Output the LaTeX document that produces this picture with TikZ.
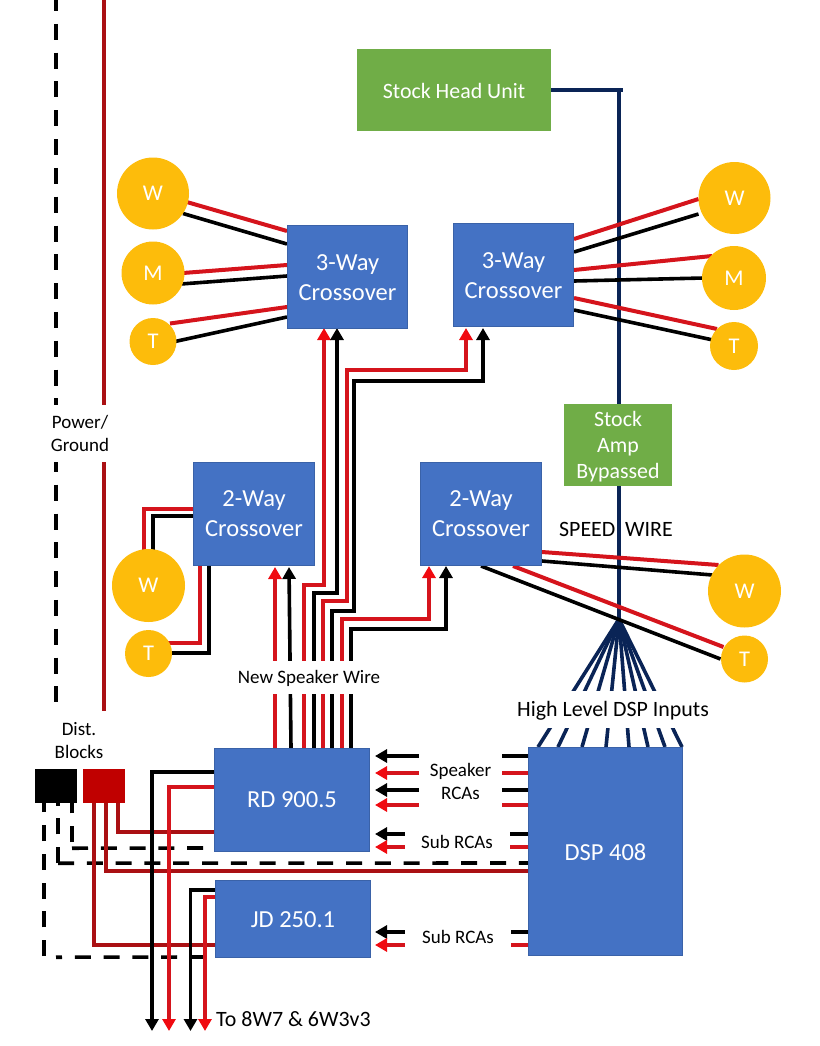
\documentclass[tikz,border=0pt]{standalone}
\usepackage{fontspec}
\setmainfont{Carlito}
\usetikzlibrary{arrows.meta,backgrounds}
\definecolor{boxblue}{HTML}{4472C4}
\definecolor{boxedge}{HTML}{3A62A8}
\definecolor{leaf}{HTML}{70AD47}
\definecolor{gold}{HTML}{FDBC0B}
\definecolor{navy}{HTML}{0A2456}
\definecolor{wirered}{HTML}{D5141C}
\definecolor{tipred}{HTML}{F00A10}
\definecolor{power}{HTML}{AA1013}
\definecolor{blockred}{HTML}{C00000}
\tikzset{
  x=1pt,y=-1pt,
  boxnode/.style={rectangle,fill=boxblue,draw=boxedge,line width=.6pt,inner sep=0pt,text=white,font=\fontsize{24.5}{30}\selectfont},
  greenbox/.style={rectangle,fill=leaf,inner sep=0pt,text=white,font=\fontsize{21.9}{26}\selectfont},
  spk/.style={circle,fill=gold,inner sep=0pt,text=white,font=\fontsize{22.5}{26}\selectfont},
  lbl/.style={fill=white,inner sep=0pt,text=black,font=\fontsize{19}{23}\selectfont},
  biglbl/.style={inner sep=0pt,text=black,font=\fontsize{21.9}{26}\selectfont},
  rw/.style={draw=wirered,line width=4pt,line cap=butt,line join=miter},
  kw/.style={draw=black,line width=3.6pt,line cap=butt,line join=miter},
  nw/.style={draw=navy,line width=4pt},
  pw/.style={draw=power,line width=4pt},
  dw/.style={draw=black,line width=3.6pt,dash pattern=on 16pt off 12.8pt},
  rtip/.style={-{Triangle[length=12pt,width=13pt,color=tipred]}},
  ktip/.style={-{Triangle[length=12pt,width=13pt,color=black]}},
}
\newcommand{\boxat}[6]{\node[#1,minimum width=#4pt,minimum height=#5pt] (#2) at (#3) {#6};}
\newcommand{\dn}[2][2pt]{\raisebox{-#1}[\height][\depth]{\begin{tabular}{@{}c@{}}#2\end{tabular}}}
\begin{document}
\begin{tikzpicture}
\useasboundingbox (0,0) rectangle (819,1046);
% boxes
\boxat{greenbox}{head}{454,90}{194}{82}{\dn[3pt]{Stock Head Unit}}
\boxat{greenbox}{amp}{618,445}{108}{82}{\dn[2pt]{Stock\\Amp\\Bypassed}}
\boxat{boxnode}{xa}{347.5,277}{120.4}{103.4}{\dn[2pt]{3-Way\\Crossover}}
\boxat{boxnode}{xb}{513.5,275}{120.4}{103.4}{\dn[2.5pt]{3-Way\\Crossover}}
\boxat{boxnode}{xc}{254,514}{121.4}{103.4}{\dn[1.3pt]{2-Way\\Crossover}}
\boxat{boxnode}{xd}{481,514}{121.4}{103.4}{\dn[1.3pt]{2-Way\\Crossover}}
\boxat{boxnode}{rd}{292,800}{155.4}{103.4}{\dn[1.3pt]{RD 900.5}}
\boxat{boxnode}{jd}{293,919}{155.4}{77.4}{\dn[2.5pt]{JD 250.1}}
\boxat{boxnode}{dsp}{605.5,851.5}{154.4}{208.4}{\dn[3pt]{DSP 408}}
% speakers
\node[spk,minimum size=72pt] (wa) at (153,193.5) {\dn{W}};
\node[spk,minimum size=63pt] (ma) at (153,273) {\dn{M}};
\node[spk,minimum size=47pt] (ta) at (153,341.5) {\dn{T}};
\node[spk,minimum size=72pt] (wb) at (734.5,198) {\dn{W}};
\node[spk,minimum size=64pt] (mb) at (734,278) {\dn{M}};
\node[spk,minimum size=48pt] (tb) at (734,346) {\dn{T}};
\node[spk,minimum size=73pt] (wc) at (148.5,585.5) {\dn{W}};
\node[spk,minimum size=47pt] (tc) at (148.5,653.5) {\dn{T}};
\node[spk,minimum size=73pt] (wd) at (744.5,591) {\dn{W}};
\node[spk,minimum size=47pt] (td) at (744.5,659) {\dn{T}};
% distribution blocks
\node[fill=black,inner sep=0pt,minimum width=42pt,minimum height=34pt] (kblock) at (56,786) {};
\node[fill=blockred,inner sep=0pt,minimum width=42pt,minimum height=34pt] (rblock) at (104,786) {};
% labels
\node[lbl,fill=none] (dist) at (79,740.5) {\dn[1.6pt]{Dist.\\Blocks}};
\node[lbl,minimum width=62pt,minimum height=57pt] (pg) at (80,433.5) {\dn[1.5pt]{Power/\\Ground}};
\node[lbl,minimum width=158pt,minimum height=33pt] (nsw) at (309,677) {\dn[1.8pt]{New Speaker Wire}};
\node[lbl,font=\fontsize{21.9}{26}\selectfont,minimum width=200pt,minimum height=37pt] (hl) at (613,709) {\dn[2.6pt]{High Level DSP Inputs}};
\node[lbl,minimum width=83pt,minimum height=62pt] (srca) at (460.5,781) {\dn[2.5pt]{Speaker\\RCAs}};
\node[lbl,minimum width=105pt,minimum height=29pt] (suba) at (457,842) {\dn[2.3pt]{Sub RCAs}};
\node[lbl,minimum width=106pt,minimum height=29pt] (subb) at (458,937) {\dn[2.3pt]{Sub RCAs}};
\node[biglbl] (speed) at (616,529.5) {SPEED\hspace{.45em}WIRE};
\node[biglbl,anchor=west] (to) at (216,1019.5) {To 8W7 \& 6W3v3};
% free ends
\coordinate (ptop) at (104,0);
\coordinate (pbot) at (104,711);
\coordinate (gtop) at (56,0);
\coordinate (gbot) at (56,703);
\coordinate (apex) at (619,619);
\coordinate (corner) at (619,90);
\coordinate (o1) at (152,1031);
\coordinate (o2) at (169,1031);
\coordinate (o3) at (190.5,1031);
\coordinate (o4) at (205,1031);
\begin{scope}[on background layer]
% power and ground
\draw[pw] (ptop) -- (pbot);
\draw[dw,dash phase=4.9pt] (gtop) -- (gbot);
\draw[dw] ([shift={(-12,153)}]kblock.south) -- ([shift={(-12,0)}]kblock.south);
\draw[dw,dash phase=10pt] ([shift={(0,154)}]kblock.south) -- ([shift={(-10,38)}]jd.west);
\draw[dw] ([shift={(2,60)}]kblock.south) -- ([shift={(2,0)}]kblock.south);
\draw[dw] ([shift={(2,60)}]kblock.south) -- ([shift={(0,11.5)}]dsp.west);
\draw[dw] ([shift={(16,39)}]kblock.south) -- ([shift={(16,0)}]kblock.south);
\draw[dw] ([shift={(16,45)}]kblock.south) -- ([shift={(-10,48)}]rd.west);
\draw[pw] ([shift={(-10,0)}]rblock.south) |- ([shift={(0,26)}]jd.west);
\draw[pw] ([shift={(2,0)}]rblock.south) |- ([shift={(0,19.5)}]dsp.west);
\draw[pw] ([shift={(14,0)}]rblock.south) |- ([shift={(0,32)}]rd.west);
% head unit signal
\draw[nw] (head.east) -- ([shift={(4,0)}]corner);
\draw[nw] ([shift={(0,-2)}]corner) -- (apex);
\foreach \dx in {-67.5,-47.5,-23.5,0.5,23.5,42.5,59.5,76.5}
  \draw[draw=navy,line width=3.6pt] (apex) -- ([shift={(\dx,-104.5)}]dsp.center);
% amplifier outputs
\draw[kw,ktip] ([shift={(0,-28)}]rd.west) -| (o1);
\draw[rw,rtip] ([shift={(0,-13)}]rd.west) -| (o2);
\draw[kw,ktip] ([shift={(0,-29)}]jd.west) -| (o3);
\draw[rw,rtip] ([shift={(0,-22)}]jd.west) -| (o4);
% new speaker wire
\draw[rw,rtip] ([shift={(-17,0)}]rd.north) -- ([shift={(21,1)}]xc.south);
\draw[kw,ktip] ([shift={(-1,0)}]rd.north) -- ([shift={(35,1)}]xc.south);
\draw[rw,rtip] ([shift={(12,0)}]rd.north) |- (324,585) -- ([shift={(-23.5,-1)}]xa.south);
\draw[kw,ktip] ([shift={(22,0)}]rd.north) |- (337,593) -- ([shift={(-10.5,-1)}]xa.south);
\draw[rw,rtip] ([shift={(31,0)}]rd.north) |- (347,601) |- (466,370) -- ([shift={(-47.5,1)}]xb.south);
\draw[kw,ktip] ([shift={(40,0)}]rd.north) |- (354,611) |- (483,381) -- ([shift={(-30.5,1)}]xb.south);
\draw[rw,rtip] ([shift={(50,0)}]rd.north) |- (429,619) -- ([shift={(-52,0)}]xd.south);
\draw[kw,ktip] ([shift={(59,0)}]rd.north) |- (446,629) -- ([shift={(-35,0)}]xd.south);
% RCAs
\draw[kw,ktip] ([shift={(0,-95.5)}]dsp.west) -- ([shift={(5,-44)}]rd.east);
\draw[rw,rtip] ([shift={(0,-78.5)}]dsp.west) -- ([shift={(5,-27)}]rd.east);
\draw[kw,ktip] ([shift={(0,-61.5)}]dsp.west) -- ([shift={(5,-10)}]rd.east);
\draw[rw,rtip] ([shift={(0,-46.5)}]dsp.west) -- ([shift={(5,5)}]rd.east);
\draw[kw,ktip] ([shift={(0,-17.5)}]dsp.west) -- ([shift={(5,34)}]rd.east);
\draw[rw,rtip] ([shift={(0,-4.5)}]dsp.west) -- ([shift={(5,47)}]rd.east);
\draw[kw,ktip] ([shift={(0,80.5)}]dsp.west) -- ([shift={(4,13)}]jd.east);
\draw[rw,rtip] ([shift={(0,93.5)}]dsp.west) -- ([shift={(4,26)}]jd.east);
% speaker wires
\draw[rw] ([shift={(32,8)}]wa.center) -- ([shift={(0,-46)}]xa.west);
\draw[kw] ([shift={(30,20)}]wa.center) -- ([shift={(0,-33)}]xa.west);
\draw[rw] ([shift={(30,0)}]ma.center) -- ([shift={(0,-12)}]xa.west);
\draw[kw] ([shift={(28,11)}]ma.center) -- ([shift={(0,-1)}]xa.west);
\draw[rw] ([shift={(17,-18)}]ta.center) -- ([shift={(0,30)}]xa.west);
\draw[kw] ([shift={(22,0)}]ta.center) -- ([shift={(0,40)}]xa.west);
\draw[rw] ([shift={(0,-36)}]xb.east) -- ([shift={(-36,1)}]wb.center);
\draw[kw] ([shift={(0,-23)}]xb.east) -- ([shift={(-36,16)}]wb.center);
\draw[rw] ([shift={(0,-5)}]xb.east) -- ([shift={(-22,-22)}]mb.center);
\draw[kw] ([shift={(0,6)}]xb.east) -- ([shift={(-30,0)}]mb.center);
\draw[rw] ([shift={(0,23)}]xb.east) -- ([shift={(-17,-17)}]tb.center);
\draw[kw] ([shift={(0,35)}]xb.east) -- ([shift={(-21,-6)}]tb.center);
\draw[rw] ([shift={(-4.5,-34)}]wc.center) |- ([shift={(0,-5)}]xc.west);
\draw[kw] ([shift={(4.5,-34)}]wc.center) |- ([shift={(0,2)}]xc.west);
\draw[rw] ([shift={(-54,0)}]xc.south) |- ([shift={(19,-10.5)}]tc.center);
\draw[kw] ([shift={(-45,0)}]xc.south) |- ([shift={(23,-0.5)}]tc.center);
\draw[kw] ([shift={(0,47)}]xd.east) -- ([shift={(-32,-16)}]wd.center);
\draw[rw] ([shift={(0,38)}]xd.east) -- ([shift={(-26,-26)}]wd.center);
\draw[kw] (xd.south) -- ([shift={(-24,0)}]td.center);
\draw[rw] ([shift={(32,0)}]xd.south) -- ([shift={(-21,-12)}]td.center);
\end{scope}
\end{tikzpicture}
\end{document}
